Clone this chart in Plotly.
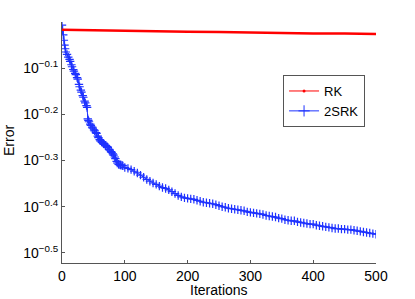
import plotly.graph_objects as go

# RK series
rk_iter = [0, 50, 100, 150, 200, 250, 300, 350, 400, 450, 500]
rk_err = [0.962, 0.959, 0.957, 0.955, 0.953, 0.951, 0.948, 0.946, 0.944, 0.944, 0.942]

# 2SRK series
srk_iter = [0, 1, 2, 3, 4, 5, 6, 8, 10, 12, 13, 15, 16, 18, 19, 21, 22, 24, 25, 27, 28,
            30, 31, 33, 34, 36, 37, 39, 40, 41, 42, 43, 45, 46, 48, 49, 51,
            52, 54, 55, 57, 58, 60, 61, 63, 64, 66, 67, 69, 70, 72, 73, 75, 76, 78, 79, 81,
            82, 84, 85, 87, 88, 90, 91, 93, 94, 96, 97,
            100, 105, 110, 115, 120, 125, 130, 135, 140, 145, 150, 155, 160, 165, 170,
            175, 180, 185, 190, 195, 200, 205, 210, 215, 220, 225, 230, 235, 240, 245,
            250, 255, 260, 265, 270, 275, 280, 285, 290, 295, 300, 305, 310, 315, 320,
            325, 330, 335, 340, 345, 350, 355, 360, 365, 370, 375, 380, 385, 390, 395,
            400, 405, 410, 415, 420, 425, 430, 435, 440, 445, 450, 455, 460, 465, 470,
            475, 480, 485, 490, 495, 500]
srk_err = [0.985, 0.960, 0.938, 0.913, 0.891, 0.875, 0.861, 0.851, 0.839, 0.830, 0.822,
           0.808, 0.800, 0.789, 0.783, 0.774, 0.769, 0.758, 0.752, 0.733, 0.724,
           0.712, 0.705, 0.693, 0.687, 0.674, 0.668, 0.659, 0.653, 0.617, 0.612, 0.608,
           0.601, 0.597, 0.592, 0.589, 0.584,
           0.581, 0.576, 0.574, 0.566, 0.562, 0.556, 0.553, 0.550, 0.548, 0.545, 0.544,
           0.541, 0.540, 0.537, 0.535, 0.530, 0.528, 0.524, 0.522, 0.518,
           0.515, 0.510, 0.506, 0.499, 0.495, 0.492, 0.491, 0.490, 0.490, 0.489, 0.488,
           0.484, 0.482, 0.479, 0.475, 0.471, 0.466, 0.461, 0.456, 0.452, 0.448, 0.445,
           0.441, 0.438, 0.436, 0.433, 0.429, 0.425, 0.421, 0.418, 0.416, 0.415, 0.414,
           0.413, 0.411, 0.409, 0.407, 0.406, 0.405, 0.404, 0.402, 0.400, 0.398, 0.397,
           0.395, 0.394, 0.393, 0.392, 0.391, 0.390, 0.388, 0.387, 0.386, 0.385, 0.384,
           0.383, 0.381, 0.380, 0.379, 0.378, 0.376, 0.375, 0.373, 0.372, 0.371, 0.371,
           0.369, 0.368, 0.367, 0.366, 0.365, 0.365, 0.363, 0.362, 0.361, 0.360, 0.359,
           0.358, 0.357, 0.357, 0.356, 0.356, 0.355, 0.355, 0.354, 0.353, 0.352, 0.351,
           0.350, 0.349, 0.348, 0.347]

x_ticks = [0, 100, 200, 300, 400, 500]
y_tickvals = [10 ** -0.1, 10 ** -0.2, 10 ** -0.3, 10 ** -0.4, 10 ** -0.5]
y_ticktext = ["10<sup>\u22120.1</sup>", "10<sup>\u22120.2</sup>", "10<sup>\u22120.3</sup>",
              "10<sup>\u22120.4</sup>", "10<sup>\u22120.5</sup>"]

RED = "rgb(255,0,0)"
BLUE = "rgb(30,50,255)"

fig = go.Figure()
fig.add_trace(go.Scatter(x=srk_iter, y=srk_err, mode="lines+markers", showlegend=False,
                         line=dict(color=BLUE, width=1),
                         marker=dict(symbol="cross-thin", size=6,
                                     line=dict(color=BLUE, width=1.2))))
fig.add_trace(go.Scatter(x=rk_iter, y=rk_err, mode="lines", showlegend=False,
                         line=dict(color=RED, width=2.5)))
# legend entries
fig.add_trace(go.Scatter(x=[None], y=[None], mode="lines+markers", name="RK",
                         line=dict(color=RED, width=1),
                         marker=dict(symbol="circle", size=3, color=RED)))
fig.add_trace(go.Scatter(x=[None], y=[None], mode="lines+markers", name="2SRK",
                         line=dict(color=BLUE, width=1),
                         marker=dict(symbol="cross-thin", size=8,
                                     line=dict(color=BLUE, width=1))))

fig.add_annotation(text="Iterations", xref="paper", yref="paper", x=0.5, y=-0.112,
                   xanchor="center", yanchor="middle", showarrow=False,
                   font=dict(size=14))
fig.add_annotation(text="Error", xref="paper", yref="paper", x=-0.169, y=0.51,
                   xanchor="center", yanchor="middle", showarrow=False, textangle=-90,
                   font=dict(size=14))

fig.update_layout(
    width=415, height=299,
    margin=dict(l=62, r=39, t=22, b=36),
    paper_bgcolor="white", plot_bgcolor="white",
    font=dict(family="Liberation Sans, Arial, sans-serif", size=14, color="black"),
    legend=dict(x=0.704, y=0.78, xanchor="left", yanchor="top",
                bgcolor="white", bordercolor="#555555", borderwidth=1,
                font=dict(size=13), tracegroupgap=0, itemwidth=30),
    xaxis=dict(range=[0, 500], tickvals=x_ticks, ticks="inside", ticklen=3,
               showgrid=False, zeroline=False, showline=True, linecolor="#555555",
               tickcolor="#555555", tickfont=dict(size=14)),
    yaxis=dict(type="log", range=[-0.522, 0], tickvals=y_tickvals, ticktext=y_ticktext,
               ticks="inside", ticklen=3, showgrid=False, zeroline=False,
               showline=True, linecolor="#555555", tickcolor="#555555",
               tickfont=dict(size=14)),
)

fig.write_html("out.html", config={"displayModeBar": False},
               post_script="document.body.style.margin='0';")
